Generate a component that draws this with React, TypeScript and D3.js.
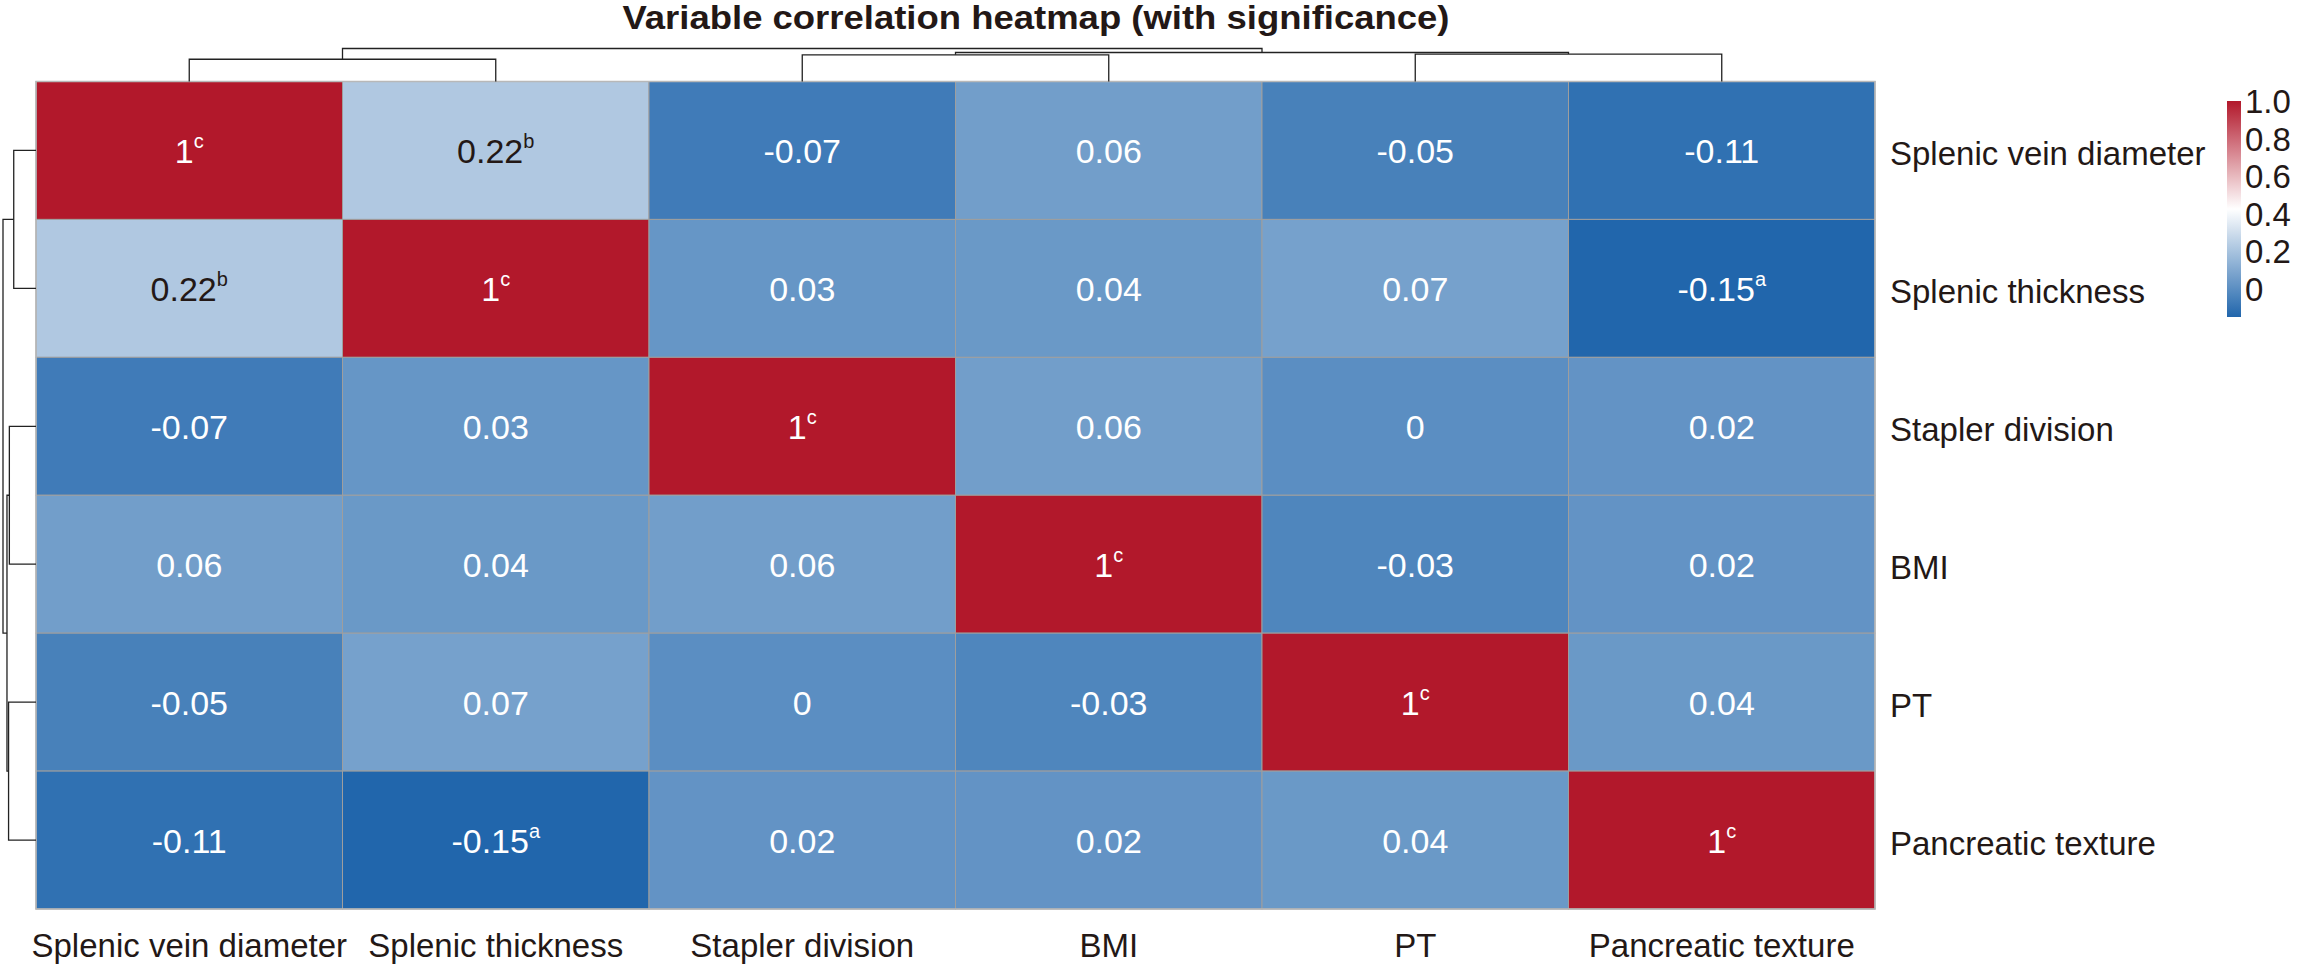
import React from 'react';
import * as d3 from 'd3';

const VARIABLES = [
  'Splenic vein diameter',
  'Splenic thickness',
  'Stapler division',
  'BMI',
  'PT',
  'Pancreatic texture',
];

// correlation matrix, row by row (same order as VARIABLES)
const CORR_ROWS = [
  [1, 0.22, -0.07, 0.06, -0.05, -0.11],
  [0.22, 1, 0.03, 0.04, 0.07, -0.15],
  [-0.07, 0.03, 1, 0.06, 0, 0.02],
  [0.06, 0.04, 0.06, 1, -0.03, 0.02],
  [-0.05, 0.07, 0, -0.03, 1, 0.04],
  [-0.11, -0.15, 0.02, 0.02, 0.04, 1],
];

// significance letters shown as superscripts
const SIGNIF = [
  ['c', 'b', '', '', '', ''],
  ['b', 'c', '', '', '', 'a'],
  ['', '', 'c', '', '', ''],
  ['', '', '', 'c', '', ''],
  ['', '', '', '', 'c', ''],
  ['', 'a', '', '', '', 'c'],
];

// dendrogram merges: [left node, right node, height]; leaves are 0..5, merges get ids 6..10
const MERGES: [number, number, number][] = [
  [0, 1, 1.12],
  [2, 3, 1.34],
  [4, 5, 1.38],
  [7, 8, 1.46],
  [6, 9, 1.66],
];

const LEGEND_TICKS = [1.0, 0.8, 0.6, 0.4, 0.2, 0];
const LEGEND_LABELS = ['1.0', '0.8', '0.6', '0.4', '0.2', '0'];

const W = 2304;
const H = 977;
const FONT = "'Liberation Sans', Arial, sans-serif";
const TEXT = '#231816';

export default function App() {
  const left = 36, right = 1875, top = 81.5, bottom = 909;
  const idx = VARIABLES.map((_, i) => i);

  const x = d3.scaleBand<number>().domain(idx).range([left, right]);
  const y = d3.scaleBand<number>().domain(idx).range([top, bottom]);

  const vmin = d3.min(CORR_ROWS.flat()) as number;
  const vmax = d3.max(CORR_ROWS.flat()) as number;
  const color = d3
    .scaleLinear<string>()
    .domain([vmin, (vmin + vmax) / 2, vmax])
    .range(['#2166ac', '#ffffff', '#b2182b'])
    .interpolate(d3.interpolateRgb);

  const dend = d3.scaleLinear().domain([0, 1.66]).range([0, 33]);

  // positions of dendrogram nodes along the leaf axis
  const pos: number[] = idx.map(i => (x(i) as number) + x.bandwidth() / 2);
  const hgt: number[] = idx.map(() => 0);
  MERGES.forEach(([a, b, h]) => {
    pos.push((pos[a] + pos[b]) / 2);
    hgt.push(h);
  });
  const rowPos: number[] = idx.map(i => (y(i) as number) + y.bandwidth() / 2);
  MERGES.forEach(([a, b]) => rowPos.push((rowPos[a] + rowPos[b]) / 2));

  const topPaths = MERGES.map(([a, b, h]) => {
    const ym = top - dend(h);
    return `M${pos[a]},${top - dend(hgt[a])}V${ym}H${pos[b]}V${top - dend(hgt[b])}`;
  });
  const leftPaths = MERGES.map(([a, b, h]) => {
    const xm = left - dend(h);
    return `M${left - dend(hgt[a])},${rowPos[a]}H${xm}V${rowPos[b]}H${left - dend(hgt[b])}`;
  });

  // legend
  const ly = d3.scaleLinear().domain([vmin, vmax]).range([317, 101]);
  const gradStops = d3.range(0, 1.0001, 0.05).map(t => ({
    off: t,
    c: color(vmax - t * (vmax - vmin)),
  }));

  const cells: React.ReactNode[] = [];
  CORR_ROWS.forEach((row, r) => {
    row.forEach((v, c) => {
      const fill = color(v);
      const light = d3.lab(fill).l > 72;
      const cx = (x(c) as number) + x.bandwidth() / 2;
      const cy = (y(r) as number) + y.bandwidth() / 2;
      cells.push(
        <g key={`${r}-${c}`}>
          <rect
            x={x(c)}
            y={y(r)}
            width={x.bandwidth()}
            height={y.bandwidth()}
            fill={fill}
            stroke="#9e9e9e"
            strokeWidth={1}
          />
          <text
            x={cx}
            y={cy + 13}
            textAnchor="middle"
            fontSize={34}
            fontFamily={FONT}
            fill={light ? TEXT : '#ffffff'}
          >
            {String(v)}
            {SIGNIF[r][c] && (
              <tspan fontSize={20} dy={-15}>
                {SIGNIF[r][c]}
              </tspan>
            )}
          </text>
        </g>
      );
    });
  });

  return (
    <svg
      width={W}
      height={H}
      style={{ position: 'absolute', left: 0, top: 0, background: '#ffffff' }}
    >
      <defs>
        <linearGradient id="legendGrad" x1="0" y1="0" x2="0" y2="1">
          {gradStops.map((s, i) => (
            <stop key={i} offset={s.off} stopColor={s.c} />
          ))}
        </linearGradient>
      </defs>

      <text
        x={1036}
        y={29}
        textAnchor="middle"
        fontSize={33}
        fontWeight="bold"
        fontFamily={FONT}
        fill={TEXT}
        textLength={827}
        lengthAdjust="spacingAndGlyphs"
      >
        Variable correlation heatmap (with significance)
      </text>

      {cells}
      <rect
        x={left}
        y={top}
        width={right - left}
        height={bottom - top}
        fill="none"
        stroke="#b8b8b8"
        strokeWidth={1.5}
      />

      <g fill="none" stroke="#222" strokeWidth={1.3}>
        {topPaths.map((d, i) => (
          <path key={`t${i}`} d={d} />
        ))}
        {leftPaths.map((d, i) => (
          <path key={`l${i}`} d={d} />
        ))}
      </g>

      {VARIABLES.map((v, i) => (
        <text
          key={`r${i}`}
          x={right + 15}
          y={rowPos[i] + 15}
          fontSize={33}
          fontFamily={FONT}
          fill={TEXT}
        >
          {v}
        </text>
      ))}
      {VARIABLES.map((v, i) => (
        <text
          key={`b${i}`}
          x={pos[i]}
          y={957}
          textAnchor="middle"
          fontSize={33}
          fontFamily={FONT}
          fill={TEXT}
        >
          {v}
        </text>
      ))}

      <rect x={2227} y={ly(vmax)} width={14} height={ly(vmin) - ly(vmax)} fill="url(#legendGrad)" />
      {LEGEND_TICKS.map((t, i) => (
        <text
          key={`lg${i}`}
          x={2245}
          y={ly(t) + 12}
          fontSize={33}
          fontFamily={FONT}
          fill={TEXT}
        >
          {LEGEND_LABELS[i]}
        </text>
      ))}
    </svg>
  );
}
